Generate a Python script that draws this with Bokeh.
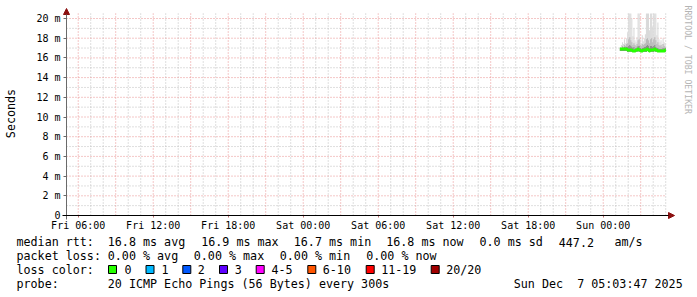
import pandas as pd
from math import pi
from bokeh.plotting import figure
from bokeh.core.properties import value
from bokeh.models import (Range1d, FixedTicker, DatetimeTickFormatter, CustomJSTickFormatter,
                          Arrow, NormalHead)
from bokeh.embed import file_html
from bokeh.resources import INLINE

# ---------------- data ----------------
end_time = pd.Timestamp("2025-12-07 05:03:47")
window_hours = 48
step_seconds = 300
first_bin = pd.Timestamp("2025-12-07 01:20:00")

median_ms = [16.9, 16.9, 16.9, 16.9, 16.9, 16.9, 16.9, 16.8, 16.8, 16.8,
             16.8, 16.8, 16.7, 16.7, 16.7, 16.8, 16.8, 16.9, 16.8, 16.8,
             16.7, 16.7, 16.8, 16.8, 16.8, 16.8, 16.9, 16.8, 16.7, 16.8,
             16.8, 16.8, 16.8, 16.9, 16.8, 16.8, 16.7, 16.7, 16.7, 16.7,
             16.7, 16.7, 16.7, 16.8]
min_ms = [16.7, 16.7, 16.7, 16.7, 16.7, 16.7, 16.7, 16.6, 16.6, 16.6,
          16.6, 16.6, 16.6, 16.6, 16.6, 16.6, 16.6, 16.7, 16.6, 16.6,
          16.6, 16.6, 16.6, 16.6, 16.6, 16.6, 16.7, 16.6, 16.6, 16.6,
          16.6, 16.6, 16.6, 16.7, 16.6, 16.6, 16.6, 16.6, 16.6, 16.6,
          16.6, 16.6, 16.6, 16.6]
q3_ms = [17.0, 17.0, 17.05, 17.0, 17.1, 17.05, 17.1, 17.1, 17.2, 17.3,
         17.2, 17.1, 17.0, 17.1, 16.9, 17.0, 17.05, 17.2, 17.2, 17.0,
         16.9, 17.0, 17.0, 17.1, 17.1, 17.2, 17.3, 17.2, 17.0, 17.2,
         17.2, 17.1, 17.2, 17.3, 17.1, 17.0, 17.0, 16.9, 16.9, 16.9,
         16.9, 17.0, 16.9, 17.0]
p90_ms = [16.95, 17.0, 17.2, 17.1, 17.3, 17.2, 17.4, 17.5, 17.9, 18.1,
          17.8, 17.6, 17.3, 17.5, 17.3, 17.2, 17.4, 17.8, 17.9, 17.3,
          17.2, 17.4, 17.3, 17.4, 17.5, 17.9, 18.0, 17.8, 17.5, 17.9,
          18.0, 17.6, 17.9, 18.1, 17.8, 17.4, 17.6, 17.3, 17.2, 17.3,
          17.1, 17.4, 17.2, 17.1]
max_ms = [17.1, 17.3, 17.6, 17.4, 17.9, 17.5, 18.0, 18.6, 20.5, 20.5,
          20.5, 20.0, 18.2, 19.0, 17.8, 17.6, 18.1, 20.5, 20.5, 17.9,
          17.5, 18.3, 17.7, 18.0, 18.4, 20.5, 20.5, 20.5, 18.8, 20.5,
          20.5, 19.2, 20.5, 20.5, 20.5, 18.3, 19.6, 17.9, 17.6, 17.8,
          17.4, 18.0, 17.6, 17.5]

x_label_times = ["2025-12-05 06:00", "2025-12-05 12:00", "2025-12-05 18:00",
                 "2025-12-06 00:00", "2025-12-06 06:00", "2025-12-06 12:00",
                 "2025-12-06 18:00", "2025-12-07 00:00"]
y_ticks = [0, 2, 4, 6, 8, 10, 12, 14, 16, 18, 20]
y_minor = [1, 3, 5, 7, 9, 11, 13, 15, 17, 19]
graph_top_ms = 20.5

legend_rtt = ["median rtt:", "16.8 ms avg", "16.9 ms max", "16.7 ms min",
              "16.8 ms now", "0.0 ms sd", "447.2", "am/s"]
legend_loss = ["packet loss:", "0.00 % avg", "0.00 % max", "0.00 % min", "0.00 % now"]
loss_title = "loss color:"
loss_names = ["0", "1", "2", "3", "4-5", "6-10", "11-19", "20/20"]
loss_colors = ["#26ff00", "#00b8ff", "#0059ff", "#5e00ff", "#ff00ff",
               "#ff5500", "#ff0000", "#a10000"]
probe_texts = ["probe:", "20 ICMP Echo Pings (56 Bytes) every 300s",
               "Sun Dec \u00a07 05:03:47 2025"]
ylabel = "Seconds"
watermark = "RRDTOOL / TOBI OETIKER"

# ---------------- layout (page pixels) ----------------
W, H = 697, 297
AX_X, AX_Y = 66, 215  # pixel position of the axes origin
PX_PER_HOUR = 12.5
PX_PER_MS = 9.85
MONO = "DejaVu Sans Mono"
LEG_FONT = "11.7px"

start_time = end_time - pd.Timedelta(hours=window_hours)


def t_at(px):
    return start_time + pd.Timedelta(hours=(px - AX_X) / PX_PER_HOUR)


def ms_at(py):
    return (AX_Y - py) / PX_PER_MS


def to_ms_epoch(t):
    return t.value / 1e6


p = figure(width=W, height=H, x_axis_type="datetime",
           output_backend="svg", toolbar_location=None,
           x_range=Range1d(t_at(0), t_at(W)),
           y_range=Range1d(ms_at(H), ms_at(0)),
           min_border=0)
p.extra_x_ranges = {"px": Range1d(0, W)}
p.extra_y_ranges = {"px": Range1d(H, 0)}
p.grid.visible = False
p.outline_line_color = None
p.background_fill_color = "white"
p.border_fill_color = "white"

# grid
hours = pd.date_range(start_time.ceil("h"), end_time.floor("h"), freq="h")
minor_x = [t for t in hours if t.hour % 3 != 0]
major_x = [t for t in hours if t.hour % 3 == 0]
grid_dash = "1 2"
minor_col, major_col = "#bdbdbd", "#e88f8f"
p.segment(x0=minor_x, x1=minor_x, y0=0, y1=graph_top_ms, line_color=minor_col,
          line_width=1, line_dash=grid_dash)
p.segment(x0=[start_time] * len(y_minor), x1=[end_time] * len(y_minor), y0=y_minor,
          y1=y_minor, line_color=minor_col, line_width=1, line_dash=grid_dash)
p.segment(x0=major_x, x1=major_x, y0=0, y1=graph_top_ms, line_color=major_col,
          line_width=1, line_dash=grid_dash)
p.segment(x0=[start_time] * (len(y_ticks) - 1), x1=[end_time] * (len(y_ticks) - 1),
          y0=y_ticks[1:], y1=y_ticks[1:], line_color=major_col, line_width=1,
          line_dash=grid_dash)

# smoke
bins = pd.date_range(first_bin, periods=len(median_ms), freq=f"{step_seconds}s")
bins_r = bins + pd.Timedelta(seconds=step_seconds)
p.quad(left=bins, right=bins_r, bottom=min_ms, top=max_ms, fill_color="#d9d9d9",
       line_color=None)
p.quad(left=bins, right=bins_r, bottom=min_ms, top=p90_ms, fill_color="#b8b8b8",
       line_color=None)
p.quad(left=bins, right=bins_r, bottom=min_ms, top=q3_ms, fill_color="#8a8a8a",
       line_color=None)

# median
step_x = list(bins) + [bins_r[-1]]
step_y = list(median_ms) + [median_ms[-1]]
p.step(x=step_x, y=step_y, mode="after", line_color=loss_colors[0], line_width=3)

# axes pinned at the origin
xa = p.xaxis[0]
xa.fixed_location = 0
xa.ticker = FixedTicker(ticks=[to_ms_epoch(pd.Timestamp(t)) for t in x_label_times])
fmt = "%a %H:%M"
xa.formatter = DatetimeTickFormatter(hours=fmt, days=fmt, minutes=fmt, hourmin=fmt,
                                     months=fmt, years=fmt, context=None)
xa.axis_line_color = None
xa.major_tick_out = 2
xa.major_tick_in = 0
xa.minor_tick_out = 0
xa.minor_tick_in = 0
xa.major_tick_line_color = "#c07070"
xa.major_label_standoff = 2
xa.major_label_text_font = MONO
xa.major_label_text_font_size = "10px"
xa.major_label_text_color = "black"

ya = p.yaxis[0]
ya.fixed_location = to_ms_epoch(start_time)
ya.ticker = FixedTicker(ticks=y_ticks)
ya.formatter = CustomJSTickFormatter(code='return tick == 0 ? "0" : tick.toFixed(0) + " m";')
ya.axis_line_color = None
ya.major_tick_out = 3
ya.major_tick_in = 0
ya.minor_tick_out = 0
ya.minor_tick_in = 0
ya.major_tick_line_color = "#6a6a6a"
ya.major_label_standoff = 3
ya.major_label_text_font = MONO
ya.major_label_text_font_size = "10px"
ya.major_label_text_color = "black"

# axis lines with arrow heads
arrow_col = "#8b1010"
p.add_layout(Arrow(end=NormalHead(size=6, fill_color=arrow_col, line_color=arrow_col),
                   x_start=to_ms_epoch(start_time), y_start=ms_at(219),
                   x_end=to_ms_epoch(start_time), y_end=ms_at(8),
                   line_color="#6a6a6a", line_width=1))
p.add_layout(Arrow(end=NormalHead(size=6, fill_color=arrow_col, line_color=arrow_col),
                   x_start=to_ms_epoch(t_at(62)), y_start=0,
                   x_end=to_ms_epoch(t_at(674)), y_end=0,
                   line_color="black", line_width=1))

# titles
p.text(x=[687], y=[5], text=[watermark], angle=-pi / 2, x_range_name="px",
       y_range_name="px", text_font=value(MONO), text_font_size="8.2px",
       text_color="#b4b4b4", text_align="left", text_baseline="middle")
p.text(x=[10], y=[113], text=[ylabel], angle=pi / 2, x_range_name="px",
       y_range_name="px", text_font=value(MONO), text_font_size=LEG_FONT,
       text_color="black", text_align="center", text_baseline="middle")


# legend block
def leg_text(texts, xs, yc):
    p.text(x=xs, y=[yc] * len(texts), text=texts, x_range_name="px", y_range_name="px",
           text_font=value(MONO), text_font_size=LEG_FONT, text_color="black",
           text_align="left", text_baseline="middle")


leg_text(legend_rtt, [16, 107.3, 200.7, 293.3, 385.7, 479, 558.3, 614], 241.5)
leg_text(legend_loss, [16, 107.3, 193.3, 279.3, 365.7], 255.5)
leg_text([loss_title], [16], 269.3)
box_x = [108, 145.5, 182.3, 219, 255.7, 307.3, 365.7, 430.7]
p.quad(left=box_x, right=[b + 8 for b in box_x], top=[265] * len(box_x),
       bottom=[273] * len(box_x), x_range_name="px", y_range_name="px",
       fill_color=loss_colors, line_color="black", line_width=1)
leg_text(loss_names, [124, 161, 197.3, 234.3, 271, 322.3, 380.7, 445.7], 269.3)
leg_text(probe_texts, [16, 107.3, 513.3], 283)

open("out.html", "w").write(file_html(p, INLINE))
